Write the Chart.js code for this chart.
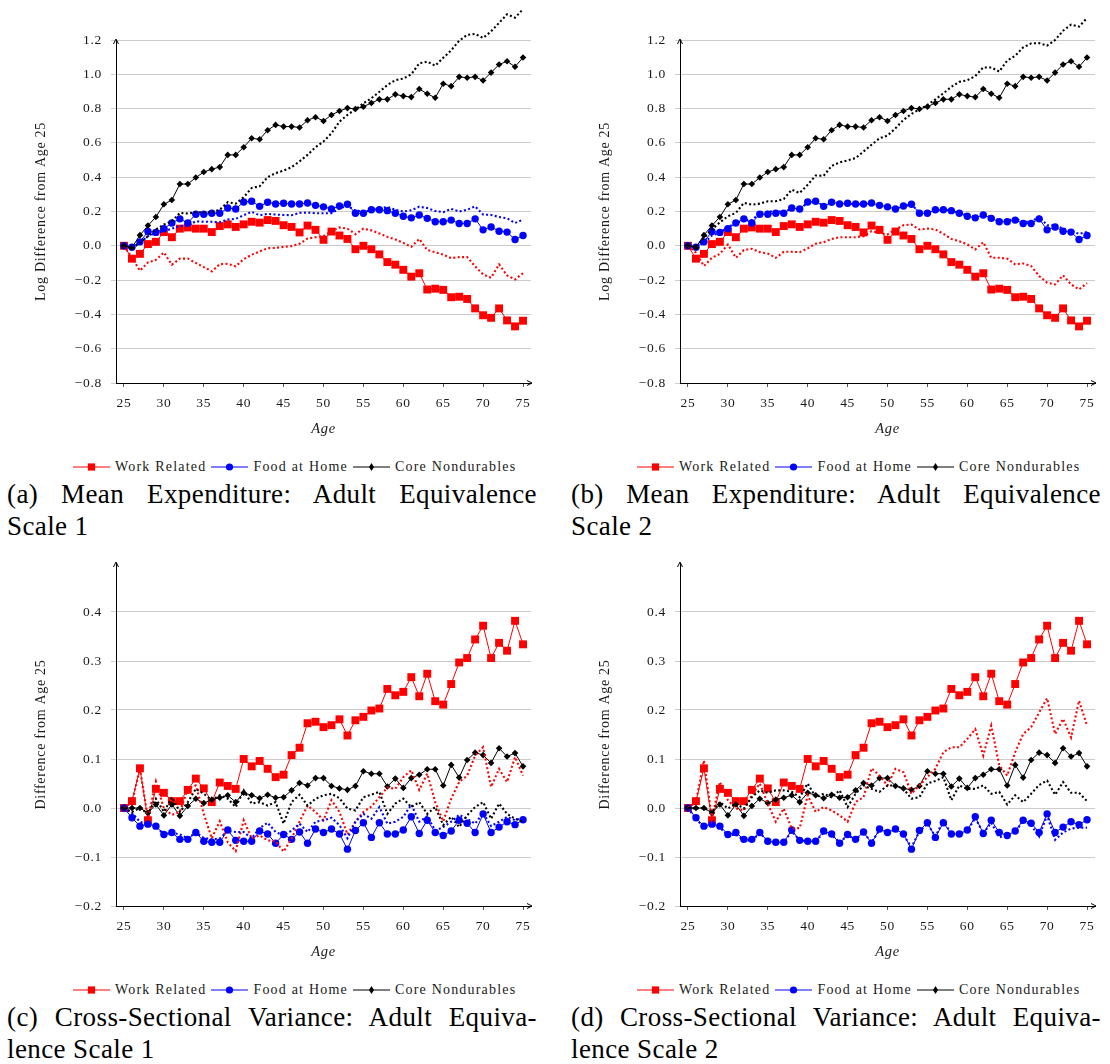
<!DOCTYPE html>
<html><head><meta charset="utf-8">
<script src="https://cdn.jsdelivr.net/npm/chart.js@4.4.1/dist/chart.umd.min.js"></script>
<style>
html,body{margin:0;padding:0;background:#fff;}
#wrap{position:relative;width:1110px;height:1064px;overflow:hidden;background:#fff;}
.panel{position:absolute;width:560px;height:523px;}
.panel canvas{position:absolute;left:0;top:0;}
.legend{position:absolute;left:73px;top:458px;height:18px;display:flex;align-items:center;font-family:"Liberation Serif";font-size:14px;letter-spacing:1.2px;color:#1a1a1a;white-space:nowrap;}
.legend .item{display:flex;align-items:center;margin-right:5px;}
.legend svg{margin-right:5px;}
.cap{position:absolute;left:7px;top:478px;width:530px;font-family:"Liberation Serif";font-size:27px;line-height:32px;letter-spacing:0.4px;color:#000;}
.cap .j{text-align:justify;text-align-last:justify;}
</style></head>
<body>
<div id="wrap">
  <div class="panel" style="left:0;top:0"><canvas id="ca" width="545" height="450"></canvas>
    <div class="legend" id="la"></div>
    <div class="cap"><div class="j">(a) Mean Expenditure: Adult Equivalence</div><div>Scale 1</div></div></div>
  <div class="panel" style="left:564px;top:0"><canvas id="cb" width="545" height="450"></canvas>
    <div class="legend" id="lb"></div>
    <div class="cap"><div class="j">(b) Mean Expenditure: Adult Equivalence</div><div>Scale 2</div></div></div>
  <div class="panel" style="left:0;top:523px"><canvas id="cc" width="545" height="450"></canvas>
    <div class="legend" id="lc"></div>
    <div class="cap"><div class="j">(c) Cross-Sectional Variance: Adult Equiva-</div><div>lence Scale 1</div></div></div>
  <div class="panel" style="left:564px;top:523px"><canvas id="cd" width="545" height="450"></canvas>
    <div class="legend" id="ld"></div>
    <div class="cap"><div class="j">(d) Cross-Sectional Variance: Adult Equiva-</div><div>lence Scale 2</div></div></div>
</div>
<script>
// ---------- DATA ----------
const ages = [25,26,27,28,29,30,31,32,33,34,35,36,37,38,39,40,41,42,43,44,45,46,47,48,49,50,
  51,52,53,54,55,56,57,58,59,60,61,62,63,64,65,66,67,68,69,70,71,72,73,74,75];
const xTicks = [25,30,35,40,45,50,55,60,65,70,75];
const yTicksMean = [-0.8,-0.6,-0.4,-0.2,0,0.2,0.4,0.6,0.8,1.0,1.2];
const yTicksVar = [-0.2,-0.1,0,0.1,0.2,0.3,0.4];
const seriesNames = ["Work Related","Food at Home","Core Nondurables"];

// Mean expenditure (solid, same in a and b)
const workMean = [0,-0.075,-0.047,0.01,0.023,0.08,0.05,0.1,0.107,0.1,
  0.1,0.08,0.115,0.125,0.11,0.125,0.14,0.135,0.15,0.145,
  0.12,0.11,0.078,0.118,0.093,0.035,0.083,0.06,0.04,-0.02,
  0,-0.02,-0.05,-0.095,-0.11,-0.14,-0.18,-0.16,-0.255,-0.25,
  -0.257,-0.3,-0.297,-0.31,-0.365,-0.405,-0.42,-0.365,-0.435,-0.47,-0.437];
const foodMean = [0,-0.008,0.023,0.083,0.078,0.1,0.133,0.157,0.133,0.184,
  0.184,0.19,0.19,0.22,0.215,0.255,0.26,0.23,0.254,0.244,
  0.248,0.244,0.244,0.25,0.236,0.227,0.215,0.232,0.242,0.19,
  0.19,0.21,0.21,0.205,0.19,0.172,0.163,0.18,0.16,0.14,
  0.14,0.15,0.13,0.13,0.157,0.093,0.11,0.085,0.08,0.037,0.06];
const coreMean = [0,-0.01,0.062,0.118,0.168,0.242,0.267,0.36,0.36,0.398,
  0.43,0.447,0.459,0.53,0.53,0.575,0.627,0.621,0.674,0.705,
  0.695,0.695,0.69,0.732,0.75,0.728,0.763,0.786,0.803,0.798,
  0.811,0.833,0.854,0.854,0.883,0.873,0.867,0.914,0.887,0.863,
  0.945,0.931,0.985,0.98,0.985,0.964,1.01,1.057,1.076,1.044,1.098];
// Mean expenditure (dotted) - scale 1
const workMeanS1 = [0,-0.07,-0.145,-0.097,-0.082,-0.039,-0.11,-0.075,-0.075,-0.1,
  -0.124,-0.149,-0.107,-0.105,-0.12,-0.078,-0.052,-0.033,-0.014,-0.012,
  -0.006,-0.002,0.012,0.042,0.05,0.056,0.085,0.107,0.1,0.068,
  0.1,0.09,0.072,0.052,0.037,0.017,-0.006,0.04,-0.025,-0.037,
  -0.052,-0.072,-0.066,-0.066,-0.12,-0.167,-0.186,-0.108,-0.173,-0.196,-0.16];
const foodMeanS1 = [0,-0.005,0.018,0.056,0.075,0.085,0.1,0.115,0.118,0.143,
  0.14,0.14,0.137,0.153,0.157,0.178,0.198,0.178,0.186,0.182,
  0.18,0.178,0.192,0.194,0.19,0.19,0.19,0.217,0.234,0.205,
  0.2,0.205,0.217,0.227,0.21,0.2,0.207,0.228,0.22,0.203,
  0.196,0.215,0.2,0.21,0.23,0.182,0.18,0.168,0.16,0.133,0.153];
const coreMeanS1 = [0,-0.017,0.018,0.056,0.095,0.124,0.143,0.192,0.188,0.196,
  0.196,0.196,0.21,0.254,0.246,0.283,0.337,0.347,0.4,0.424,
  0.438,0.459,0.492,0.53,0.575,0.608,0.656,0.724,0.763,0.796,
  0.831,0.86,0.898,0.937,0.966,0.975,1.0,1.064,1.074,1.05,
  1.096,1.14,1.196,1.23,1.235,1.212,1.25,1.3,1.35,1.33,1.38];
// Mean expenditure (dotted) - scale 2
const workMeanS2 = [0,-0.04,-0.118,-0.07,-0.047,0.008,-0.07,-0.025,-0.017,-0.037,
  -0.045,-0.07,-0.035,-0.035,-0.037,-0.015,0.012,0.021,0.04,0.05,
  0.05,0.05,0.056,0.085,0.075,0.066,0.095,0.12,0.124,0.095,
  0.1,0.095,0.07,0.04,0.027,0.008,-0.021,0.021,-0.07,-0.07,
  -0.075,-0.108,-0.103,-0.118,-0.176,-0.215,-0.225,-0.172,-0.225,-0.254,-0.218];
const foodMeanS2 = [0,-0.005,0.015,0.06,0.075,0.11,0.13,0.15,0.15,0.19,
  0.2,0.2,0.2,0.215,0.215,0.25,0.255,0.235,0.25,0.245,
  0.245,0.242,0.242,0.245,0.235,0.225,0.215,0.23,0.24,0.195,
  0.19,0.205,0.21,0.205,0.19,0.178,0.17,0.19,0.165,0.15,
  0.145,0.16,0.14,0.14,0.17,0.12,0.12,0.1,0.085,0.07,0.08];
const coreMeanS2 = [0,-0.006,0.046,0.095,0.137,0.172,0.192,0.25,0.24,0.246,
  0.26,0.26,0.273,0.327,0.308,0.356,0.41,0.408,0.466,0.486,
  0.498,0.511,0.55,0.589,0.627,0.643,0.685,0.734,0.769,0.796,
  0.821,0.854,0.889,0.927,0.956,0.965,0.99,1.04,1.04,1.016,
  1.08,1.108,1.157,1.18,1.182,1.167,1.2,1.254,1.29,1.278,1.328];

// Cross-sectional variance (solid, same in c and d)
const workVar = [0,0.014,0.081,-0.025,0.039,0.031,0.014,0.014,0.037,0.06,
  0.04,0.012,0.052,0.045,0.039,0.1,0.085,0.096,0.08,0.063,
  0.068,0.108,0.123,0.173,0.176,0.165,0.169,0.181,0.148,0.179,
  0.186,0.199,0.203,0.243,0.23,0.237,0.267,0.228,0.274,0.218,
  0.211,0.253,0.297,0.306,0.344,0.372,0.306,0.337,0.321,0.382,0.334];
const foodVar = [0,-0.02,-0.037,-0.033,-0.037,-0.054,-0.05,-0.064,-0.064,-0.05,
  -0.068,-0.07,-0.07,-0.045,-0.066,-0.068,-0.068,-0.047,-0.053,-0.072,
  -0.054,-0.064,-0.049,-0.072,-0.043,-0.05,-0.043,-0.053,-0.084,-0.046,
  -0.03,-0.06,-0.03,-0.053,-0.053,-0.045,-0.018,-0.052,-0.025,-0.05,
  -0.056,-0.047,-0.025,-0.031,-0.05,-0.012,-0.05,-0.039,-0.028,-0.034,-0.024];
const coreVar = [0,0,0,-0.01,0.007,-0.015,0.007,-0.016,0.004,0.019,
  0.01,0.017,0.021,0.026,0.012,0.031,0.026,0.02,0.027,0.021,
  0.022,0.036,0.051,0.046,0.061,0.061,0.045,0.04,0.037,0.045,
  0.075,0.07,0.07,0.044,0.06,0.041,0.061,0.068,0.079,0.079,
  0.046,0.088,0.062,0.098,0.113,0.108,0.092,0.122,0.105,0.112,0.085];
// Cross-sectional variance (dotted) - scale 1
const workVarS1 = [0,0.012,0.08,-0.022,0.054,-0.001,-0.014,-0.008,0.039,0.046,
  -0.012,-0.062,-0.027,-0.07,-0.088,-0.025,-0.062,-0.056,-0.066,-0.068,
  -0.089,-0.062,-0.028,0.005,-0.008,-0.025,0.016,-0.008,-0.054,-0.028,
  -0.008,0.003,0.022,0.042,0.039,0.063,0.077,0.037,0.07,0.012,
  -0.027,0.019,0.053,0.066,0.107,0.124,0.043,0.08,0.053,0.104,0.066];
const foodVarS1 = [0,-0.01,-0.028,-0.035,-0.037,-0.054,-0.05,-0.054,-0.062,-0.05,
  -0.061,-0.064,-0.062,-0.047,-0.049,-0.049,-0.062,-0.041,-0.03,-0.049,
  -0.056,-0.046,-0.032,-0.049,-0.028,-0.025,-0.02,-0.035,-0.062,-0.028,
  -0.012,-0.022,0.002,-0.032,-0.028,-0.018,0.007,-0.028,-0.017,-0.046,
  -0.039,-0.028,-0.014,-0.022,-0.032,-0.01,-0.037,-0.028,-0.018,-0.025,-0.02];
const coreVarS1 = [0,-0.008,0,-0.012,0.019,-0.008,0.022,-0.008,0.012,0.039,
  0.029,0.016,0.026,0.019,0.002,0.036,0.009,0.012,0.005,0.012,
  -0.032,0.012,0.027,0.005,0.019,0.026,0.029,0.02,-0.001,-0.005,
  0.022,0.027,0.033,-0.012,0.009,0.019,0.002,0.012,-0.012,0.002,
  -0.035,-0.018,-0.039,-0.015,0.002,0.012,-0.022,0.009,-0.012,-0.022,-0.028];
// Cross-sectional variance (dotted) - scale 2
const workVarS2 = [0,0.012,0.097,-0.022,0.053,0.016,-0.001,-0.005,0.026,0.05,
  0.009,-0.028,-0.001,-0.042,-0.041,0.026,-0.008,0.002,-0.005,-0.015,
  -0.028,0.012,0.022,0.081,0.066,0.046,0.08,0.073,0.029,0.046,
  0.063,0.08,0.114,0.124,0.124,0.141,0.161,0.107,0.168,0.087,
  0.066,0.114,0.151,0.165,0.195,0.224,0.151,0.182,0.144,0.219,0.168];
const foodVarS2 = [0,-0.022,-0.04,-0.035,-0.04,-0.056,-0.054,-0.066,-0.066,-0.052,
  -0.066,-0.072,-0.07,-0.048,-0.066,-0.068,-0.068,-0.05,-0.055,-0.07,
  -0.056,-0.064,-0.05,-0.07,-0.045,-0.05,-0.045,-0.055,-0.08,-0.048,
  -0.032,-0.058,-0.026,-0.053,-0.053,-0.047,-0.02,-0.052,-0.03,-0.06,
  -0.055,-0.05,-0.025,-0.035,-0.058,-0.015,-0.065,-0.05,-0.042,-0.04,-0.04];
const coreVarS2 = [0,-0.001,0,-0.008,0.012,-0.001,0.009,-0.001,0.022,0.036,
  0.031,0.036,0.036,0.033,0.022,0.05,0.022,0.029,0.022,0.036,
  0.002,0.029,0.046,0.039,0.033,0.046,0.046,0.039,0.019,0.022,
  0.05,0.055,0.063,0.016,0.046,0.039,0.039,0.046,0.029,0.033,
  0.007,0.026,0.012,0.029,0.047,0.056,0.027,0.053,0.031,0.031,0.014];

// ---------- STYLE ----------
const RED = '#ff0000', BLUE = '#0000ff', BLACK = '#000000';
const FONT = 'Liberation Serif';

function pts(vals){ return ages.map((a,i)=>({x:a, y:vals[i]})); }
function fmt(v){ const r = Math.round(v*10)/10; return (r < 0 ? '\u2212' : '') + Math.abs(r).toFixed(1); }

function solid(vals, color, style, radius){
  return {data: pts(vals), borderColor: color, backgroundColor: color, borderWidth: 1,
    pointStyle: style, pointRadius: radius, pointHoverRadius: radius, pointBorderWidth: 0,
    pointBackgroundColor: color, tension: 0, clip: false};
}
function dotted(vals, color){
  return {data: pts(vals), borderColor: color, backgroundColor: color, borderWidth: 2.1,
    borderDash: [2, 2.4], borderCapStyle: 'butt', pointRadius: 0, tension: 0, clip: false};
}

const spacing = {
  id: 'spacing',
  beforeLayout(chart){ chart.ctx.letterSpacing = '0.7px'; },
  beforeDraw(chart){ chart.ctx.letterSpacing = '0.7px'; }
};
const arrows = {
  id: 'arrows',
  afterDraw(chart){
    const {ctx, chartArea: {left, top, right, bottom}} = chart;
    ctx.save();
    ctx.strokeStyle = '#000'; ctx.lineWidth = 1;
    ctx.beginPath();
    ctx.moveTo(left - 2.5, top + 4); ctx.lineTo(left, top - 1); ctx.lineTo(left + 2.5, top + 4);
    ctx.moveTo(right - 4, bottom - 2.5); ctx.lineTo(right + 1, bottom); ctx.lineTo(right - 4, bottom + 2.5);
    ctx.stroke();
    ctx.restore();
  }
};

function makePanel(id, yTitle, yMin, yMax, yTicks, sol, dot){
  const datasets = [
    dotted(dot[2], BLACK), dotted(dot[1], BLUE), dotted(dot[0], RED),
    solid(sol[2], BLACK, 'rectRot', 3.3), solid(sol[1], BLUE, 'circle', 3.7), solid(sol[0], RED, 'rect', 5.6)
  ];
  new Chart(document.getElementById(id), {
    type: 'line',
    data: {datasets},
    plugins: [spacing, arrows],
    options: {
      responsive: false, animation: false, devicePixelRatio: 1,
      layout: {padding: {left: 0, top: 40, right: 14, bottom: 0}},
      plugins: {legend: {display: false}, tooltip: {enabled: false}},
      scales: {
        x: {
          type: 'linear', min: 24, max: 76,
          afterBuildTicks: s => { s.ticks = xTicks.map(v => ({value: v})); },
          afterFit: s => { s.height = 67; },
          ticks: {callback: v => String(v), font: {family: FONT, size: 13.5}, color: '#1a1a1a', padding: 8, maxRotation: 0, autoSkip: false},
          grid: {drawOnChartArea: false, drawTicks: true, tickLength: 4, color: '#555'},
          border: {display: true, color: '#000', width: 1},
          title: {display: true, text: 'Age', font: {family: FONT, size: 14.5, style: 'italic'}, color: '#1a1a1a', padding: {top: 0, bottom: 12}}
        },
        y: {
          type: 'linear', min: yMin, max: yMax,
          afterBuildTicks: s => { s.ticks = yTicks.map(v => ({value: v})); },
          afterFit: s => { s.width = 116; },
          ticks: {callback: v => fmt(v), font: {family: FONT, size: 13.5}, color: '#1a1a1a', padding: 9, autoSkip: false},
          grid: {color: '#cccccc', lineWidth: 1, drawTicks: true, tickLength: 5},
          border: {display: true, color: '#000', width: 1},
          title: {display: true, text: yTitle, font: {family: FONT, size: 14}, color: '#1a1a1a', padding: {top: 33, bottom: 0}}
        }
      }
    }
  });
}

function legendHTML(){
  const syms = [
    '<rect x="14.9" y="3.4" width="7.2" height="7.2" fill="#ff0000"/>',
    '<circle cx="18.5" cy="7" r="3.6" fill="#0000ff"/>',
    '<polygon points="18.5,3 21,7 18.5,11 16,7" fill="#000"/>'
  ];
  const cols = [RED, BLUE, BLACK];
  return seriesNames.map((n,i) =>
    '<div class="item"><svg width="37" height="14"><line x1="0" y1="7" x2="37" y2="7" stroke="'+cols[i]+'" stroke-width="1"/>'+syms[i]+'</svg><span>'+n+'</span></div>'
  ).join('');
}
['la','lb','lc','ld'].forEach(id => { document.getElementById(id).innerHTML = legendHTML(); });

makePanel('ca', 'Log Difference from Age 25', -0.8, 1.2, yTicksMean, [workMean, foodMean, coreMean], [workMeanS1, foodMeanS1, coreMeanS1]);
makePanel('cb', 'Log Difference from Age 25', -0.8, 1.2, yTicksMean, [workMean, foodMean, coreMean], [workMeanS2, foodMeanS2, coreMeanS2]);
makePanel('cc', 'Difference from Age 25', -0.2, 0.5, yTicksVar, [workVar, foodVar, coreVar], [workVarS1, foodVarS1, coreVarS1]);
makePanel('cd', 'Difference from Age 25', -0.2, 0.5, yTicksVar, [workVar, foodVar, coreVar], [workVarS2, foodVarS2, coreVarS2]);
</script>
</body></html>
